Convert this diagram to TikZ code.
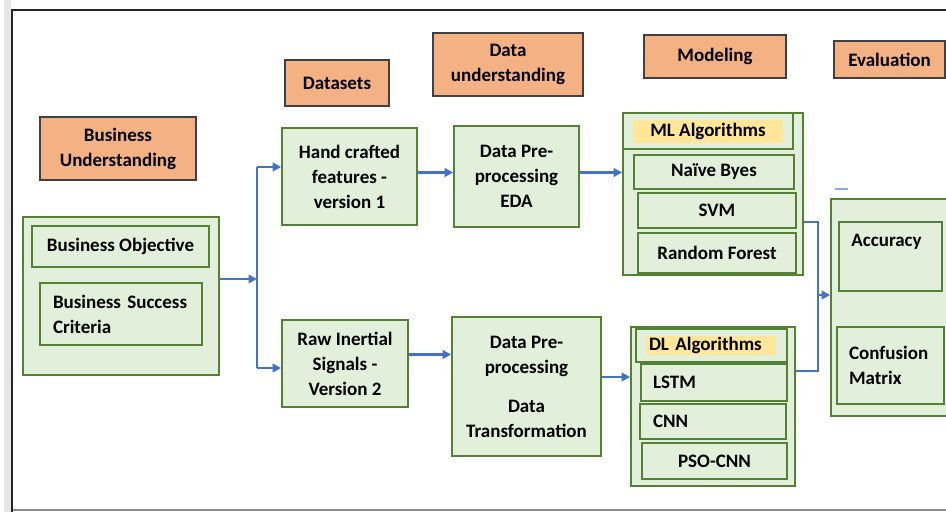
\documentclass[tikz,border=0pt]{standalone}
\usepackage{fontspec}
\setmainfont{Carlito}
\usetikzlibrary{arrows.meta}
\definecolor{hdrorange}{RGB}{244,177,131}
\definecolor{hdrline}{RGB}{64,64,64}
\definecolor{grnfill}{RGB}{226,239,218}
\definecolor{grnline}{RGB}{84,130,53}
\definecolor{tagyellow}{RGB}{255,230,153}
\definecolor{flowblue}{RGB}{68,114,196}
\definecolor{stripgrey}{RGB}{230,230,230}

\begin{document}
\begin{tikzpicture}[x=1pt,y=-1pt,font=\bfseries\fontsize{19}{25}\selectfont,hdr/.style={draw=hdrline,fill=hdrorange,line width=1.2pt,align=center,inner sep=2pt},gbox/.style={draw=grnline,fill=grnfill,line width=1.6pt,align=center,inner sep=2pt},lbox/.style={gbox,align=left,inner ysep=2pt},tag/.style={fill=tagyellow,inner sep=0pt,align=center},flow/.style={-{Triangle[length=8.5pt,width=8.5pt]},line width=2.4pt,draw=flowblue},link/.style={line width=2.4pt,draw=flowblue}]
\useasboundingbox (0,0) rectangle (946,512);

\fill[stripgrey] (4,0) rectangle (11,512);
\draw[black!45,line width=1.5pt] (12,510) -- (946,510);
\draw[black!85,line width=2pt] (12,512) -- (12,10) -- (946,10);

\node[hdr,minimum width=156pt,minimum height=63pt] (bu) at (118,148.5) {Business\\Understanding};
\node[hdr,minimum width=104pt,minimum height=46pt] (ds) at (337,83) {Datasets};
\node[hdr,minimum width=150pt,minimum height=63pt] (du) at (508,64.5) {Data\\understanding};
\node[hdr,minimum width=142pt,minimum height=43pt] (mod) at (715,56.5) {Modeling};
\node[hdr,minimum width=111pt,minimum height=37pt] (evh) at (889.5,59.5) {Evaluation};

\node[gbox,minimum width=196pt,minimum height=158pt] (biz) at (121,296) {};
\node[gbox,minimum width=177pt,minimum height=41pt] (obj) at (120.5,246.5) {Business Objective};
\node[lbox,text width=136pt,inner xsep=13pt,minimum height=62pt] (crit) at (121,314) {Business~Success\\Criteria};

\node[gbox,minimum width=135pt,minimum height=97pt] (hand) at (349.5,176.5) {Hand crafted\\features -\\version 1};
\node[gbox,minimum width=126pt,minimum height=87pt] (raw) at (345,363.5) {Raw Inertial\\Signals -\\Version 2};
\node[gbox,minimum width=125pt,minimum height=101pt] (pre1) at (516.5,176.5) {Data Pre-\\processing\\EDA};
\node[gbox,minimum width=149pt,minimum height=139pt] (pre2) at (526.5,386.5) {Data Pre-\\processing\\[14pt]Data\\Transformation};

\node[gbox,minimum width=180pt,minimum height=162pt] (ml) at (713,194) {};
\node[gbox,minimum width=170pt,minimum height=36pt] (mlhead) at (708,131) {};
\node[tag,minimum width=150pt,minimum height=23pt] (mltag) at (708,131.5) {ML Algorithms};
\node[gbox,minimum width=160pt,minimum height=34pt] (nb) at (714,172) {Naïve Byes};
\node[gbox,minimum width=158pt,minimum height=35pt] (svm) at (717,210.5) {SVM};
\node[gbox,minimum width=158pt,minimum height=40pt] (rf) at (717,253) {Random Forest};

\node[gbox,minimum width=164pt,minimum height=159pt] (dl) at (713,406.5) {};
\node[gbox,minimum width=151pt,minimum height=33pt] (dlhead) at (711.5,345.5) {};
\node[tag,align=left,text width=124pt,inner xsep=3pt,minimum height=19pt] (dltag) at (711,345.5) {DL Algorithms};
\node[lbox,text width=122pt,inner xsep=12pt,minimum height=37pt] (lstm) at (714,382.5) {LSTM};
\node[lbox,text width=120pt,inner xsep=13pt,minimum height=35pt] (cnn) at (713,421.5) {CNN};
\node[gbox,minimum width=145pt,minimum height=36pt] (pso) at (714.5,461) {PSO-CNN};

\node[gbox,minimum width=129pt,minimum height=217pt] (ev) at (895.5,307.5) {};
\node[gbox,minimum width=103pt,minimum height=69pt] (acc) at (890.5,256.5) {};
\node[anchor=base west,inner sep=0pt] (acctxt) at ([shift={(13,25)}]acc.north west) {Accuracy};
\node[lbox,text width=83pt,inner xsep=12pt,minimum height=77pt] (cm) at (890.5,365.5) {Confusion\\Matrix};
\draw[flowblue!60,line width=1.2pt] (835,189) -- (848,189);

\coordinate (split) at (257,279);
\coordinate (up) at (257,167);
\coordinate (down) at (257,368);
\coordinate (join) at (818,295);
\draw[flow] (biz.east |- split) -- (split);
\draw[link] (up) -- (down);
\draw[flow] (up) -- (up -| hand.west);
\draw[flow] (down) -- (down -| raw.west);
\draw[flow] ([shift={(0,-4)}]hand.east) -- ([shift={(0,-4)}]hand.east -| pre1.west);
\draw[flow] ([shift={(0,-4)}]pre1.east) -- ([shift={(0,-4)}]pre1.east -| ml.west);
\draw[flow] ([shift={(0,-9)}]raw.east) -- ([shift={(0,-9)}]raw.east -| pre2.west);
\draw[flow] ([shift={(0,-9.5)}]pre2.east) -- ([shift={(0,-9.5)}]pre2.east -| dl.west);
\draw[link] ([shift={(0,28)}]ml.east) -| (join);
\draw[link] ([shift={(0,-35.5)}]dl.east) -| (join);
\draw[flow] (join) -- (join -| ev.west);
\end{tikzpicture}
\end{document}
